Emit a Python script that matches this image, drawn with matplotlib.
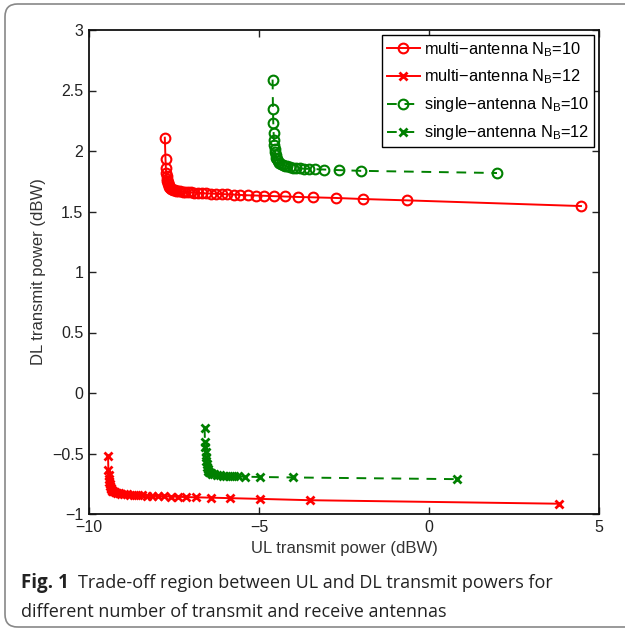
import numpy as np
import matplotlib
matplotlib.use("Agg")
from matplotlib import pyplot as plt
from matplotlib.patches import FancyBboxPatch

# multi-antenna, N_B = 10
multi10_x = [-7.77, -7.75, -7.74, -7.73, -7.72, -7.71, -7.70, -7.69, -7.68, -7.66,
             -7.64, -7.62, -7.59, -7.56, -7.52, -7.48, -7.43, -7.38, -7.32, -7.25,
             -7.18, -7.10, -7.01, -6.91, -6.80, -6.68, -6.55, -6.41, -6.26, -6.10,
             -5.93, -5.75, -5.56, -5.33, -5.10, -4.86, -4.57, -4.25, -3.84, -3.40,
             -2.75, -1.93, -0.64, 4.47]
multi10_y = [2.11, 1.93, 1.86, 1.82, 1.79, 1.77, 1.755, 1.74, 1.73, 1.715,
             1.705, 1.697, 1.69, 1.684, 1.679, 1.675, 1.671, 1.668, 1.666, 1.664,
             1.662, 1.660, 1.658, 1.656, 1.654, 1.652, 1.650, 1.648, 1.646, 1.644,
             1.642, 1.640, 1.637, 1.634, 1.632, 1.630, 1.627, 1.624, 1.620, 1.617,
             1.612, 1.603, 1.592, 1.545]

# multi-antenna, N_B = 12
multi12_x = [-9.44, -9.43, -9.42, -9.41, -9.40, -9.39, -9.38, -9.36, -9.34, -9.31,
             -9.28, -9.24, -9.19, -9.13, -9.06, -8.98, -8.89, -8.79, -8.68, -8.56,
             -8.43, -8.29, -8.14, -7.97, -7.79, -7.59, -7.38, -7.15, -6.86, -6.42,
             -5.86, -4.98, -3.51, 3.82]
multi12_y = [-0.52, -0.64, -0.68, -0.71, -0.735, -0.755, -0.77, -0.785, -0.797, -0.806,
             -0.813, -0.819, -0.824, -0.828, -0.832, -0.835, -0.838, -0.840, -0.842, -0.844,
             -0.846, -0.848, -0.850, -0.852, -0.854, -0.856, -0.858, -0.860, -0.862, -0.865,
             -0.869, -0.875, -0.886, -0.915]

# single-antenna, N_B = 10
single10_x = [-4.60, -4.59, -4.58, -4.57, -4.56, -4.55, -4.54, -4.53, -4.51, -4.49,
              -4.47, -4.44, -4.40, -4.35, -4.30, -4.24, -4.17, -4.09, -4.00, -3.90,
              -3.79, -3.67, -3.53, -3.34, -3.10, -2.66, -1.99, 2.00]
single10_y = [2.59, 2.35, 2.23, 2.15, 2.09, 2.05, 2.02, 1.99, 1.965, 1.945,
              1.93, 1.915, 1.903, 1.893, 1.885, 1.878, 1.872, 1.867, 1.862, 1.859,
              1.856, 1.854, 1.852, 1.850, 1.847, 1.842, 1.836, 1.818]

# single-antenna, N_B = 12
single12_x = [-6.60, -6.59, -6.58, -6.57, -6.56, -6.55, -6.54, -6.53, -6.51, -6.49,
              -6.46, -6.42, -6.37, -6.31, -6.24, -6.16, -6.07, -5.97, -5.86, -5.74,
              -5.63, -5.42, -4.98, -4.01, 0.83]
single12_y = [-0.29, -0.405, -0.445, -0.49, -0.53, -0.56, -0.59, -0.61, -0.628, -0.642,
              -0.653, -0.662, -0.668, -0.673, -0.677, -0.680, -0.683, -0.685, -0.687, -0.689,
              -0.690, -0.692, -0.694, -0.698, -0.712]

labels = ["multi\u2212antenna N$_\\mathrm{B}$=10", "multi\u2212antenna N$_\\mathrm{B}$=12",
          "single\u2212antenna N$_\\mathrm{B}$=10", "single\u2212antenna N$_\\mathrm{B}$=12"]

plt.rcParams['font.family'] = ['Liberation Sans', 'DejaVu Sans']
plt.rcParams['mathtext.fontset'] = 'custom'
plt.rcParams['mathtext.rm'] = 'Liberation Sans'

fig = plt.figure(figsize=(6.25, 6.32), dpi=100)
ax = fig.add_axes([89/625, 1-514/632, 510/625, 484/632])

red = '#ff0000'
green = '#008000'
ax.plot(multi10_x, multi10_y, '-', color=red, lw=1.4, marker='o', ms=7,
        mfc='none', mew=1.5, label=labels[0])
ax.plot(multi12_x, multi12_y, '-', color=red, lw=1.4, marker='x', ms=6,
        mew=2, label=labels[1])
ax.plot(single10_x, single10_y, '--', color=green, lw=1.4, marker='o', ms=7,
        mfc='none', mew=1.5, label=labels[2], dashes=(5, 4))
ax.plot(single12_x, single12_y, '--', color=green, lw=1.4, marker='x', ms=6,
        mew=2, label=labels[3], dashes=(5, 4))

ax.set_xlim(-10, 5)
ax.set_ylim(-1, 3)
ax.set_xticks([-10, -5, 0, 5])
ax.set_yticks(np.arange(-1, 3.01, 0.5))
ax.set_xticklabels(["\u221210", "\u22125", "0", "5"])
ax.set_yticklabels(["\u22121", "\u22120.5", "0", "0.5", "1", "1.5", "2", "2.5", "3"])
ax.tick_params(direction='in', length=5, width=1, labelsize=11.5, top=True, right=True,
               pad=4, colors='#222222')
for s in ax.spines.values():
    s.set_linewidth(1.3)
    s.set_color('#111111')

ax.set_xlabel("UL transmit power (dBW)", fontsize=12, color='#333333', labelpad=5)
ax.set_ylabel("DL transmit power (dBW)", fontsize=12, color='#333333', labelpad=4)

leg = ax.legend(loc='upper right', fontsize=11.8, handlelength=2.0, handletextpad=0.25,
                borderaxespad=0.3, labelspacing=0.55, borderpad=0.3, fancybox=False,
                framealpha=1)
leg.get_frame().set_edgecolor('black')
leg.get_frame().set_linewidth(1.0)

# caption
fig.text(21/625, 1-588/632, "Fig. 1", fontsize=13.5, family='Open Sans', weight='bold',
         color='#222222')
fig.text(78/625, 1-588/632, "Trade-off region between UL and DL transmit powers for",
         fontsize=13, family='Open Sans', color='#222222')
fig.text(21/625, 1-617/632, "different number of transmit and receive antennas",
         fontsize=13, family='Open Sans', color='#222222')

border = FancyBboxPatch((5/625, 1-627/632), 1.05, 623/632,
                        boxstyle="round,pad=0,rounding_size=0.02",
                        transform=fig.transFigure, fill=False, ec='#888888', lw=1.2)
fig.patches.append(border)

fig.savefig("out.png", dpi=100)
